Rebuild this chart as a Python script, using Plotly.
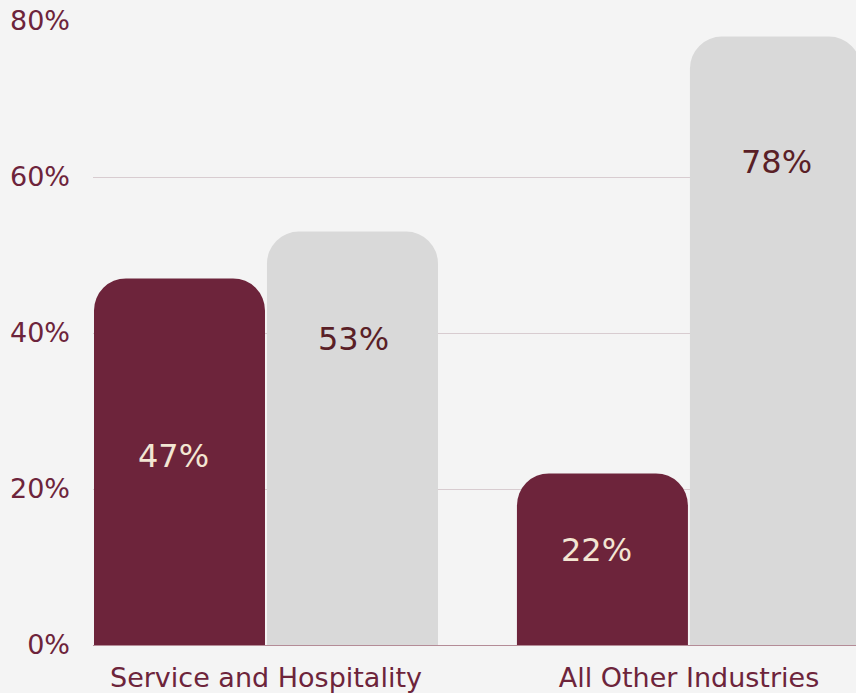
import plotly.graph_objects as go

# Share of respondents by industry group
categories = ["Service and Hospitality", "All Other Industries"]
series_a = [47, 22]   # maroon series
series_b = [53, 78]   # grey series
tick_vals = [0, 20, 40, 60, 80]
tick_text = ["0%", "20%", "40%", "60%", "80%"]

MAROON = "#6d243b"
GREY = "#d9d9d9"
BG = "#f4f4f4"
FONT = "DejaVu Sans"

fig = go.Figure()
fig.add_trace(go.Bar(x=categories, y=series_a, marker_color=MAROON,
                     marker_line_width=0, hoverinfo="skip"))
fig.add_trace(go.Bar(x=categories, y=series_b, marker_color=GREY,
                     marker_line_width=0, hoverinfo="skip"))

# heights (in axis units) at which each value label sits inside its bar
label_y_a = [24.2, 12.2]
label_y_b = [39.2, 61.9]
for i, c in enumerate(categories):
    fig.add_annotation(x=c, y=label_y_a[i], xshift=-92, text=f"{series_a[i]}%",
                       showarrow=False, font=dict(family=FONT, size=32, color="#f3e6d3"))
    fig.add_annotation(x=c, y=label_y_b[i], xshift=88,
                       text=f"{series_b[i]}%", showarrow=False,
                       font=dict(family=FONT, size=32, color="#5a1f27"))

fig.update_layout(
    width=856, height=693,
    margin=dict(l=93, r=0, t=21, b=48),
    paper_bgcolor=BG, plot_bgcolor=BG,
    barmode="group", bargap=0.182, bargroupgap=0.0115,
    barcornerradius=32,
    showlegend=False,
    font=dict(family=FONT, color=MAROON),
)
fig.update_xaxes(range=[-0.409, 1.395], showgrid=False, ticks="",
                 tickfont=dict(family=FONT, size=27, color=MAROON),
                 ticklabelstandoff=14, fixedrange=True)
fig.update_yaxes(range=[0, 80], tickvals=tick_vals, ticktext=tick_text,
                 showgrid=True, gridcolor="#d8ccd0", gridwidth=1,
                 zeroline=True, zerolinecolor="#b48c97", zerolinewidth=1,
                 tickfont=dict(family=FONT, size=27, color=MAROON),
                 ticklabelstandoff=22, fixedrange=True)

fig.write_html("out.html")
